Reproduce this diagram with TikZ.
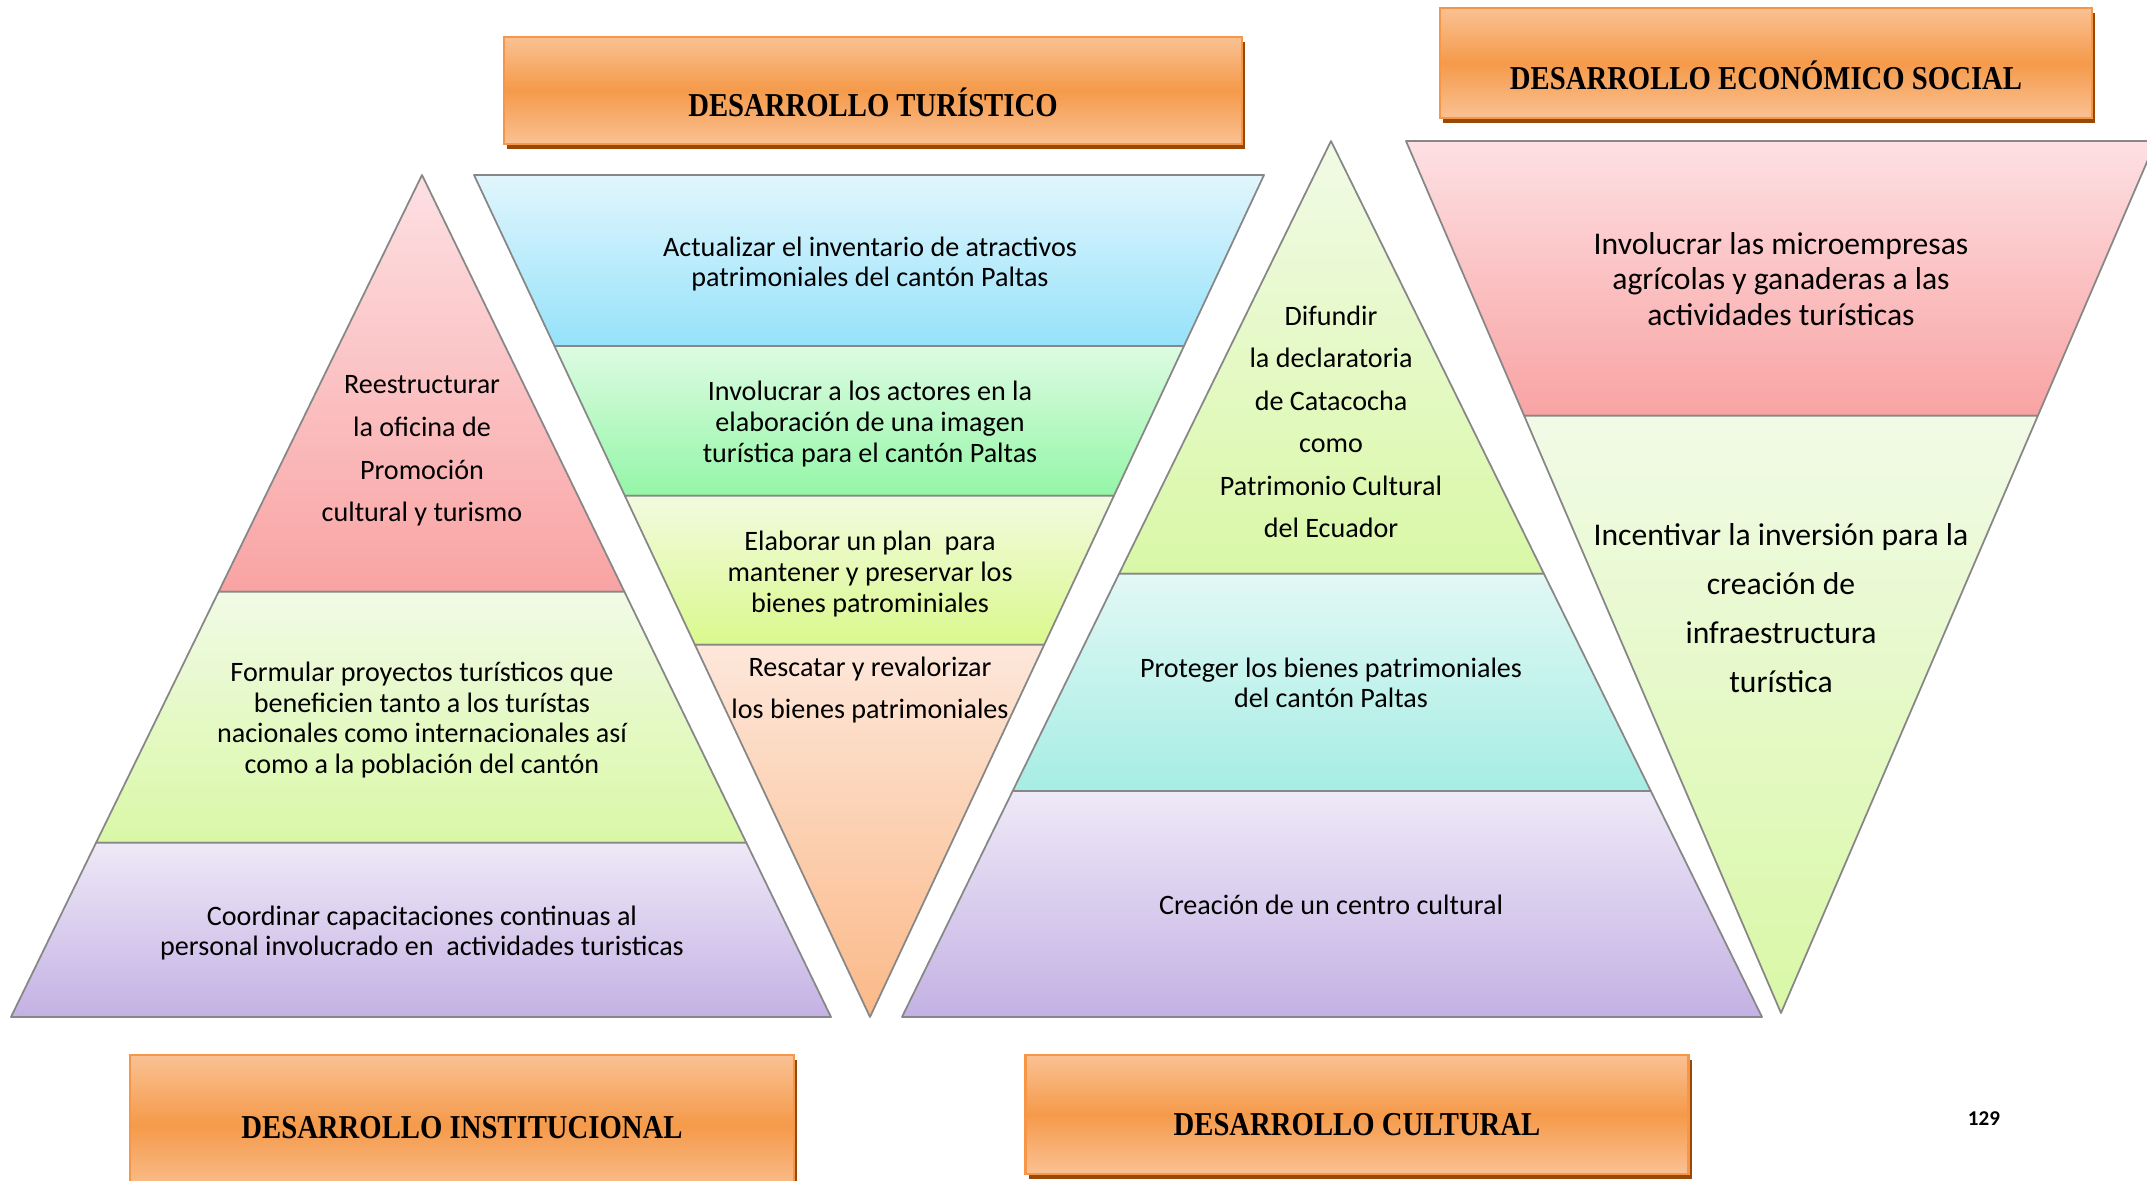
\documentclass[tikz,border=0pt]{standalone}
\usepackage{fontspec}
\setmainfont{Carlito}
\newfontfamily\titlefont[FakeStretch=0.86]{Liberation Serif}
\usetikzlibrary{calc,shadows}

\definecolor{edgegray}{HTML}{878787}
\definecolor{redtop}{HTML}{FDE0E3}
\definecolor{redbot}{HTML}{F9A3A3}
\definecolor{grntop}{HTML}{F1FAE6}
\definecolor{grnbot}{HTML}{D9F8A6}
\definecolor{lavtop}{HTML}{EEE9F7}
\definecolor{lavbot}{HTML}{C4B1E4}
\definecolor{blutop}{HTML}{E1F6FC}
\definecolor{blubot}{HTML}{96E2FB}
\definecolor{mnttop}{HTML}{DDFBE2}
\definecolor{mntbot}{HTML}{94F6A7}
\definecolor{ylgtop}{HTML}{F2FADF}
\definecolor{ylgbot}{HTML}{DAF98D}
\definecolor{pchtop}{HTML}{FDE7DA}
\definecolor{pchbot}{HTML}{FBB988}
\definecolor{teltop}{HTML}{E2F8F5}
\definecolor{telbot}{HTML}{A6EDE4}
\definecolor{boxlight}{HTML}{FAC193}
\definecolor{boxorange}{HTML}{F59A4A}
\definecolor{boxedge}{HTML}{F79646}
\definecolor{shadowbrown}{HTML}{984807}

\tikzset{
	band/.style={draw=edgegray, line width=0.5pt, line join=round},
	txt/.style={align=center, inner sep=0pt, font=\fontsize{8}{8.7}\selectfont},
	wide/.style={txt, font=\fontsize{8}{12.1}\selectfont},
	titlebox/.style={rectangle, draw=boxedge, line width=0.6pt, inner sep=0pt,
		top color=boxlight, bottom color=boxlight, middle color=boxorange,
		drop shadow={shadow xshift=0.3mm, shadow yshift=-0.5mm, fill=shadowbrown, opacity=1}},
	titletxt/.style={font=\titlefont\bfseries\fontsize{9.5}{11}\selectfont, inner sep=0pt}
}

\begin{document}
\begin{tikzpicture}
	\fill[white] (0,0) rectangle (21.47,-11.81);
	\useasboundingbox (0,0) rectangle (21.47,-11.81);

	% institucional pyramid
	\coordinate (ia) at (4.22,-1.75);
	\coordinate (il) at (0.11,-10.17);
	\coordinate (ir) at (8.31,-10.17);
	\coordinate (il1) at ($(ia)!.495!(il)$);
	\coordinate (ir1) at ($(ia)!.495!(ir)$);
	\coordinate (il2) at ($(ia)!.793!(il)$);
	\coordinate (ir2) at ($(ia)!.793!(ir)$);
	\draw[band,top color=redtop,bottom color=redbot] (ia) -- (ir1) -- (il1) -- cycle;
	\draw[band,top color=grntop,bottom color=grnbot] (il1) -- (ir1) -- (ir2) -- (il2) -- cycle;
	\draw[band,top color=lavtop,bottom color=lavbot] (il2) -- (ir2) -- (ir) -- (il) -- cycle;

	% turistico inverted pyramid
	\coordinate (tl) at (4.74,-1.75);
	\coordinate (tr) at (12.64,-1.75);
	\coordinate (ta) at (8.70,-10.17);
	\coordinate (tl1) at ($(tl)!.203!(ta)$);
	\coordinate (tr1) at ($(tr)!.203!(ta)$);
	\coordinate (tl2) at ($(tl)!.381!(ta)$);
	\coordinate (tr2) at ($(tr)!.381!(ta)$);
	\coordinate (tl3) at ($(tl)!.558!(ta)$);
	\coordinate (tr3) at ($(tr)!.558!(ta)$);
	\draw[band,top color=blutop,bottom color=blubot] (tl) -- (tr) -- (tr1) -- (tl1) -- cycle;
	\draw[band,top color=mnttop,bottom color=mntbot] (tl1) -- (tr1) -- (tr2) -- (tl2) -- cycle;
	\draw[band,top color=ylgtop,bottom color=ylgbot] (tl2) -- (tr2) -- (tr3) -- (tl3) -- cycle;
	\draw[band,top color=pchtop,bottom color=pchbot] (tl3) -- (tr3) -- (ta) -- cycle;

	% cultural pyramid
	\coordinate (ca) at (13.31,-1.41);
	\coordinate (cl) at (9.02,-10.17);
	\coordinate (cr) at (17.62,-10.17);
	\coordinate (cl1) at ($(ca)!.494!(cl)$);
	\coordinate (cr1) at ($(ca)!.494!(cr)$);
	\coordinate (cl2) at ($(ca)!.742!(cl)$);
	\coordinate (cr2) at ($(ca)!.742!(cr)$);
	\draw[band,top color=grntop,bottom color=grnbot] (ca) -- (cr1) -- (cl1) -- cycle;
	\draw[band,top color=teltop,bottom color=telbot] (cl1) -- (cr1) -- (cr2) -- (cl2) -- cycle;
	\draw[band,top color=lavtop,bottom color=lavbot] (cl2) -- (cr2) -- (cr) -- (cl) -- cycle;

	% economico inverted pyramid
	\coordinate (el) at (14.06,-1.41);
	\coordinate (er) at (21.56,-1.41);
	\coordinate (ea) at (17.81,-10.13);
	\coordinate (el1) at ($(el)!.315!(ea)$);
	\coordinate (er1) at ($(er)!.315!(ea)$);
	\draw[band,top color=redtop,bottom color=redbot] (el) -- (er) -- (er1) -- (el1) -- cycle;
	\draw[band,top color=grntop,bottom color=grnbot] (el1) -- (er1) -- (ea) -- cycle;

	% texts
	\node[wide] (inst1) at (4.22,-4.51) {Reestructurar\\la oficina de\\Promoción\\cultural y turismo};
	\node[txt] (inst2) at (4.22,-7.20) {Formular proyectos turísticos que\\beneficien tanto a los turístas\\nacionales como internacionales así\\como a la población del cantón};
	\node[txt] (inst3) at (4.22,-9.33) {Coordinar capacitaciones continuas al\\personal involucrado en\ \ actividades turisticas};

	\node[txt] (tur1) at (8.70,-2.64) {Actualizar el inventario de atractivos\\patrimoniales del cantón Paltas};
	\node[txt] (tur2) at (8.70,-4.24) {Involucrar a los actores en la\\elaboración de una imagen\\turística para el cantón Paltas};
	\node[txt] (tur3) at (8.70,-5.74) {Elaborar un plan\ \ para\\mantener y preservar los\\bienes patrominiales};
	\node[wide] (tur4) at (8.70,-6.90) {Rescatar y revalorizar\\los bienes patrimoniales};

	\node[wide] (cul1) at (13.31,-4.22) {Difundir\\la declaratoria\\de Catacocha\\como\\Patrimonio Cultural\\del Ecuador};
	\node[txt] (cul2) at (13.31,-6.83) {Proteger los bienes patrimoniales\\del cantón Paltas};
	\node[txt] (cul3) at (13.31,-9.05) {Creación de un centro cultural};

	\node[txt,font=\fontsize{9}{10}\selectfont] (eco1) at (17.81,-2.79) {Involucrar las microempresas\\agrícolas y ganaderas a las\\actividades turísticas};
	\node[txt,font=\fontsize{9}{14}\selectfont] (eco2) at (17.81,-6.08) {Incentivar la inversión para la\\creación de\\infraestructura\\turística};

	% title boxes
	\node[titlebox,minimum width=7.38cm,minimum height=1.07cm,
		label={[titletxt,yshift=-1.2mm]center:DESARROLLO TURÍSTICO}] (turbox) at (8.73,-0.905) {};
	\node[titlebox,minimum width=6.52cm,minimum height=1.10cm,
		label={[titletxt,yshift=-1.25mm]center:DESARROLLO ECONÓMICO SOCIAL}] (ecobox) at (17.66,-0.63) {};
	\node[titlebox,minimum width=6.64cm,minimum height=1.40cm,
		label={[titletxt,yshift=-0.25mm]center:DESARROLLO INSTITUCIONAL}] (instbox) at (4.62,-11.25) {};
	\node[titlebox,minimum width=6.63cm,minimum height=1.19cm,
		label={[titletxt,yshift=-1.0mm]center:DESARROLLO CULTURAL}] (culbox) at (13.57,-11.145) {};

	\node[font=\bfseries\fontsize{6}{7}\selectfont] (pagenum) at (19.84,-11.19) {129};
\end{tikzpicture}
\end{document}
